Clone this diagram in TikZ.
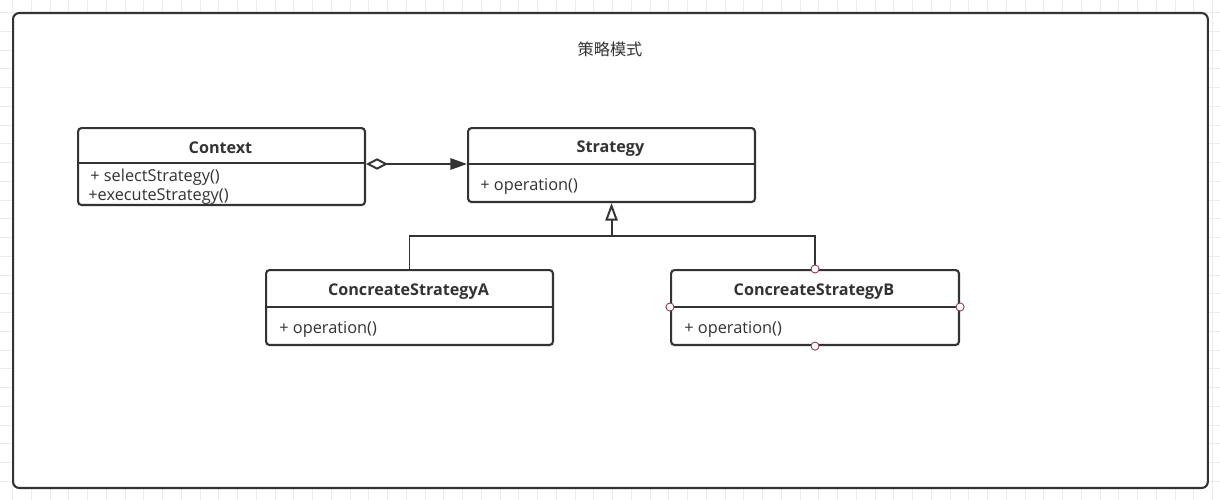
\documentclass[tikz,border=0pt]{standalone}
\usepackage{fontspec}
\setmainfont{Open Sans}
\newfontfamily\cjk{Noto Sans CJK SC}
\usetikzlibrary{arrows.meta,calc}
\definecolor{ink}{HTML}{333333}
\definecolor{gridc}{HTML}{EBEBEB}
\definecolor{dotc}{HTML}{8B3A4A}
\tikzset{
  frame/.style={draw=ink, line width=1.2pt, fill=white, rounded corners=3.5pt},
  clsbox/.style={draw=ink, line width=1.2pt, fill=white, rounded corners=2pt, inner sep=0pt, anchor=north west},
  divline/.style={draw=ink, line width=1.1pt},
  clsname/.style={font=\fontsize{9.2pt}{11pt}\selectfont\bfseries, text=ink, inner sep=0pt},
  member/.style={font=\fontsize{9.3pt}{11pt}\selectfont, text=ink, inner sep=0pt, anchor=west},
  conn/.style={draw=ink, line width=1.1pt},
  aggr/.style={conn, {Diamond[open, length=12.5pt, width=6.5pt, fill=white]}-{Triangle[length=9.5pt, width=6.5pt]}},
  gener/.style={conn, -{Triangle[open, length=10pt, width=7pt, fill=white]}},
  handle/.style={circle, draw=dotc, fill=white, line width=0.5pt, minimum size=4.6pt, inner sep=0pt},
}
\begin{document}
\begin{tikzpicture}[x=0.02cm, y=-0.02cm]
\useasboundingbox (0,0) rectangle (1220,500);
% background grid
\begin{scope}
\clip (0,0) rectangle (1220,500);
\foreach \i in {0,...,65} \draw[gridc, line width=0.4pt] ({-6.25+18.75*\i},0) -- ({-6.25+18.75*\i},500);
\foreach \j in {0,...,27} \draw[gridc, line width=0.4pt] (0,{-6.25+18.75*\j}) -- (1220,{-6.25+18.75*\j});
\end{scope}
% frame
\node[frame, minimum width=23.9cm, minimum height=9.5cm, anchor=north west, inner sep=0pt] (frm) at (12,12) {};
\node[font=\cjk\fontsize{9.2pt}{11pt}\selectfont, text=ink] (title) at (610,49) {策略模式};
% Context
\node[clsbox, minimum width=5.74cm, minimum height=1.54cm] (ctx) at (77,127) {};
\draw[divline] (77,163) -- (364,163);
\node[clsname] (ctxn) at (220.5,148) {Context};
\node[member] (ctxm1) at (90,177) {+ selectStrategy()};
\node[member] (ctxm2) at (88,196.5) {+executeStrategy()};
% Strategy
\node[clsbox, minimum width=5.74cm, minimum height=1.48cm] (str) at (467,127) {};
\draw[divline] (467,164) -- (754,164);
\node[clsname] (strn) at (610.5,149) {Strategy};
\node[member] (strm) at (480,186) {+ operation()};
% A
\node[clsbox, minimum width=5.74cm, minimum height=1.5cm] (ca) at (265,269) {};
\draw[divline] (265,307) -- (552,307);
\node[clsname] (can) at (408.5,292) {ConcreateStrategyA};
\node[member] (cam) at (279,329) {+ operation()};
% B
\node[clsbox, minimum width=5.76cm, minimum height=1.5cm] (cb) at (670,269) {};
\draw[divline] (670,307) -- (958,307);
\node[clsname] (cbn) at (814,292) {ConcreateStrategyB};
\node[member] (cbm) at (684,329) {+ operation()};
% connectors
\coordinate (ctxR) at (ctx.east |- 0,164);
\draw[aggr] (ctxR) -- (ctxR -| str.west);
\coordinate (jn) at (str.south |- 0,236);
\draw[conn] (ca.north) -- (ca.north |- jn) -- (jn -| cb.north) -- (cb.north);
\draw[gener] (jn) -- (str.south);
% handles on B
\node[handle] (h1) at (cb.north) {};
\node[handle] (h2) at (cb.south) {};
\node[handle] (h3) at (cb.west |- 0,307) {};
\node[handle] (h4) at (cb.east |- 0,307) {};
\end{tikzpicture}
\end{document}
